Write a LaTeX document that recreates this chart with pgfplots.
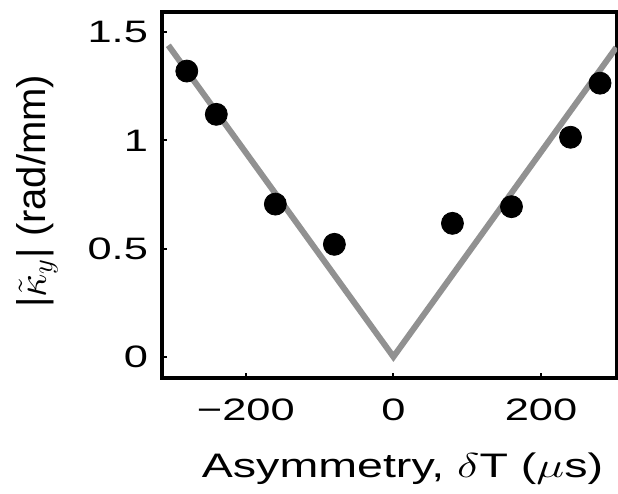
\documentclass[border=0pt]{standalone}
\usepackage{fontspec}
\setmainfont{Liberation Sans}
\usepackage{pgfplots}
\pgfplotsset{compat=1.18}
\definecolor{fitgray}{RGB}{145,145,145}
\newcommand{\sx}[1]{\scalebox{1.4}[1]{#1}}
\begin{document}
\begin{tikzpicture}
\begin{axis}[
  scale only axis, width=227.5pt, height=183pt,
  xmin=-313.6, xmax=303, ymin=-0.098, ymax=1.594,
  xtick={-200,0,200}, xticklabels={\sx{−200},\sx{0},\sx{200}},
  ytick={0,0.5,1,1.5}, yticklabels={\sx{0},\sx{0.5},\sx{1},\sx{1.5}},
  xtick pos=left, ytick pos=left,
  tick align=inside, major tick length=2.5pt,
  tick style={line width=1pt, black},
  axis line style={line width=2pt},
  ticklabel style={font=\fontsize{15.5}{18}\selectfont},
  xticklabel style={yshift=-7pt},
  yticklabel style={xshift=-3.5pt},
  xlabel={\scalebox{1.37}[1]{\fontsize{17}{20}\selectfont Asymmetry, $\delta$T ($\mu$s)}},
  ylabel={\fontsize{20}{24}\selectfont |$\tilde{\kappa}_y$| (rad/mm)},
  xlabel style={at={(axis description cs:0.5,0)}, anchor=base, yshift=-49.5pt, xshift=6.5pt},
  ylabel style={at={(axis description cs:-0.255,0.51)}, anchor=base},
  clip=true,
]
\addplot[fitgray, line width=3pt, no marks] coordinates {(-305,1.44) (0,0) (302,1.43)};
\addplot[only marks, mark=*, mark size=5.5pt, black] coordinates {
(-280,1.321) (-240,1.121) (-160,0.706) (-80,0.520)
(80,0.617) (160,0.694) (240,1.015) (280,1.265)};
\end{axis}
\pgfresetboundingbox
\path ([shift={(-81pt,-57.5pt)}]current axis.south west) rectangle ([shift={(0.5pt,6pt)}]current axis.north east);
\end{tikzpicture}
\end{document}
